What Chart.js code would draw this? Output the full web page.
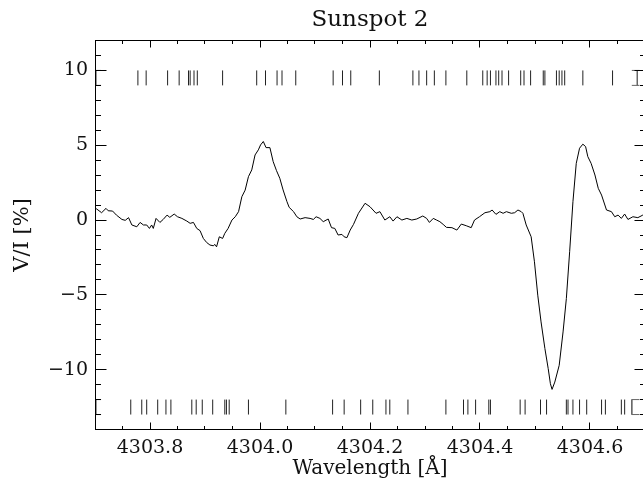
<!DOCTYPE html>
<html><head><meta charset="utf-8">
<script src="https://cdn.jsdelivr.net/npm/chart.js@4/dist/chart.umd.min.js"></script>
<style>html,body{margin:0;padding:0;overflow:hidden;background:#fff}canvas{display:block}</style>
</head><body>
<canvas id="c" width="650" height="492"></canvas>
<script>
// ---- data ----
const wavelength = [
4303.700,4303.703,4303.712,4303.720,4303.724,4303.732,4303.739,4303.749,4303.755,4303.761,
4303.767,4303.776,4303.782,4303.788,4303.794,4303.799,4303.803,4303.806,4303.811,4303.818,
4303.824,4303.831,4303.836,4303.844,4303.850,4303.858,4303.867,4303.873,4303.879,4303.885,
4303.891,4303.897,4303.903,4303.909,4303.915,4303.918,4303.921,4303.926,4303.932,4303.936,
4303.942,4303.949,4303.955,4303.961,4303.967,4303.973,4303.979,4303.985,4303.991,4303.997,
4304.001,4304.006,4304.011,4304.018,4304.024,4304.030,4304.036,4304.042,4304.049,4304.053,
4304.061,4304.067,4304.073,4304.082,4304.091,4304.097,4304.102,4304.109,4304.115,4304.124,
4304.130,4304.136,4304.142,4304.149,4304.153,4304.158,4304.164,4304.170,4304.179,4304.191,
4304.200,4304.211,4304.218,4304.227,4304.236,4304.242,4304.249,4304.258,4304.267,4304.276,
4304.285,4304.296,4304.303,4304.308,4304.315,4304.321,4304.327,4304.333,4304.339,4304.349,
4304.358,4304.366,4304.375,4304.384,4304.390,4304.399,4304.409,4304.418,4304.422,4304.429,
4304.436,4304.442,4304.448,4304.457,4304.463,4304.469,4304.475,4304.478,4304.484,4304.493,
4304.499,4304.505,4304.511,4304.518,4304.524,4304.528,4304.531,4304.536,4304.544,4304.551,
4304.557,4304.563,4304.569,4304.575,4304.581,4304.587,4304.592,4304.596,4304.602,4304.609,
4304.615,4304.621,4304.630,4304.639,4304.645,4304.651,4304.657,4304.663,4304.669,4304.678,
4304.687,4304.696,4304.700];
const stokesV = [
0.78,0.74,0.49,0.78,0.62,0.60,0.33,0.04,-0.02,0.16,
-0.33,-0.45,-0.16,-0.33,-0.33,-0.56,-0.33,-0.56,0.11,-0.16,
0.04,0.33,0.18,0.40,0.22,0.11,-0.07,-0.22,-0.16,-0.56,
-0.71,-1.23,-1.50,-1.67,-1.72,-1.63,-1.79,-1.12,-1.23,-0.89,
-0.56,0.00,0.22,0.56,1.56,2.00,2.90,3.35,4.35,4.69,
5.02,5.25,4.84,4.84,3.90,3.30,2.79,2.01,1.23,0.85,
0.56,0.22,0.07,0.16,0.11,0.04,0.22,0.11,-0.11,0.07,
-0.51,-0.56,-1.00,-0.96,-1.12,-1.18,-0.67,-0.29,0.45,1.12,
0.89,0.45,0.56,0.00,0.22,-0.07,0.22,0.00,0.11,0.00,
0.07,0.27,0.11,-0.16,0.11,0.00,-0.11,-0.29,-0.49,-0.51,
-0.67,-0.27,-0.38,-0.51,0.00,0.22,0.49,0.56,0.67,0.38,
0.56,0.45,0.56,0.45,0.49,0.67,0.56,0.45,-0.33,-1.12,
-2.79,-5.02,-6.81,-8.59,-9.93,-10.94,-11.32,-10.83,-9.71,-7.48,
-5.25,-2.12,1.23,3.79,4.80,5.07,4.91,4.24,3.79,3.01,
2.12,1.67,0.67,0.56,0.22,0.33,0.11,0.40,0.04,0.22,
0.16,0.33,0.30];
// line positions marked at the top row (y 9..10)
const topLines = [
4303.778,4303.793,4303.832,4303.853,4303.870,4303.873,4303.880,4303.886,4303.932,4303.994,
4304.010,4304.031,4304.040,4304.065,4304.133,4304.150,4304.165,4304.217,4304.278,4304.289,
4304.303,4304.317,4304.338,4304.376,4304.405,4304.413,4304.419,4304.429,4304.434,4304.440,
4304.452,4304.474,4304.480,4304.492,4304.515,4304.518,4304.539,4304.544,4304.549,4304.554,
4304.587,4304.641];
// line positions marked at the bottom row (y -13..-12)
const bottomLines = [
4303.765,4303.785,4303.794,4303.814,4303.829,4303.838,4303.876,4303.884,4303.895,4303.914,
4303.936,4303.939,4303.944,4303.979,4304.047,4304.132,4304.153,4304.183,4304.205,4304.229,
4304.236,4304.269,4304.338,4304.370,4304.378,4304.392,4304.416,4304.419,4304.473,4304.482,
4304.510,4304.521,4304.557,4304.560,4304.569,4304.581,4304.594,4304.621,4304.628,4304.657,
4304.663];
const topRow = [9, 10];
const bottomRow = [-13, -12];
// range brackets at the edges of the rows
const bracketX = [4303.7015, 4303.711];
const bracketRightX = [4304.676, 4304.686, 4304.690];
const xTickValues = [4303.8, 4304.0, 4304.2, 4304.4, 4304.6];
const yTickValues = [-10, -5, 0, 5, 10];
const xRange = [4303.7, 4304.7];
const yRange = [-14, 12];
const xMinorStep = 0.05;
const yMinorStep = 1;

// ---- build datasets ----
const curve = wavelength.map((w, i) => ({x: w, y: stokesV[i]}));
function markerPoints(list, row) {
  const pts = [];
  list.forEach(w => { pts.push({x: w, y: row[0]}, {x: w, y: row[1]}, {x: w, y: null}); });
  return pts;
}
const brackets = [
  {x: bracketX[1], y: topRow[1]}, {x: bracketX[0], y: topRow[1]}, {x: bracketX[0], y: topRow[0]}, {x: bracketX[1], y: topRow[0]}, {x: bracketX[1], y: null},
  {x: bracketX[1], y: bottomRow[1]}, {x: bracketX[0], y: bottomRow[1]}, {x: bracketX[0], y: bottomRow[0]}, {x: bracketX[1], y: bottomRow[0]}, {x: bracketX[1], y: null},
  {x: bracketRightX[0], y: topRow[1]}, {x: bracketRightX[2], y: topRow[1]}, {x: bracketRightX[2], y: null},
  {x: bracketRightX[1], y: topRow[1]}, {x: bracketRightX[1], y: topRow[0]}, {x: bracketRightX[1], y: null},
  {x: bracketRightX[0], y: topRow[0]}, {x: bracketRightX[2], y: topRow[0]}, {x: bracketRightX[2], y: null},
  {x: bracketRightX[2], y: bottomRow[1]}, {x: bracketRightX[0], y: bottomRow[1]}, {x: bracketRightX[0], y: bottomRow[0]}, {x: bracketRightX[2], y: bottomRow[0]}
];

const FONT = 'DejaVu Serif';
const INK = '#111';

const framePlugin = {
  id: 'frame',
  afterDraw(chart) {
    const {ctx, chartArea: a, scales: {x, y}} = chart;
    const L = Math.floor(a.left) + 0.5, R = Math.floor(a.right) + 0.5;
    const T = Math.floor(a.top) + 0.5, B = Math.floor(a.bottom) + 0.5;
    ctx.save();
    ctx.strokeStyle = '#000';
    ctx.lineWidth = 1;
    ctx.strokeRect(L, T, R - L, B - T);
    ctx.beginPath();
    const nx = Math.round((xRange[1] - xRange[0]) / xMinorStep);
    for (let k = 0; k <= nx; k++) {
      const v = xRange[0] + k * xMinorStep;
      const major = xTickValues.some(t => Math.abs(t - v) < 1e-6);
      const len = major ? 7 : 3.5;
      const px = Math.floor(x.getPixelForValue(v)) + 0.5;
      ctx.moveTo(px, B); ctx.lineTo(px, B - len);
      ctx.moveTo(px, T); ctx.lineTo(px, T + len);
    }
    const ny = Math.round((yRange[1] - yRange[0]) / yMinorStep);
    for (let k = 0; k <= ny; k++) {
      const v = yRange[0] + k * yMinorStep;
      const major = yTickValues.includes(v);
      const len = major ? 11 : 5.5;
      const py = Math.floor(y.getPixelForValue(v)) + 0.5;
      ctx.moveTo(L, py); ctx.lineTo(L + len, py);
      ctx.moveTo(R, py); ctx.lineTo(R - len, py);
    }
    ctx.stroke();
    ctx.restore();
  }
};

new Chart(document.getElementById('c'), {
  type: 'line',
  data: {
    datasets: [
      {data: curve, borderColor: '#000', borderWidth: 1, pointRadius: 0, tension: 0},
      {data: markerPoints(topLines, topRow), borderColor: '#222', borderWidth: 1, pointRadius: 0, spanGaps: false},
      {data: markerPoints(bottomLines, bottomRow), borderColor: '#222', borderWidth: 1, pointRadius: 0, spanGaps: false},
      {data: brackets, borderColor: '#666', borderWidth: 1, pointRadius: 0, spanGaps: false}
    ]
  },
  options: {
    responsive: false,
    animation: false,
    devicePixelRatio: 1,
    events: [],
    layout: {padding: {left: 0, right: 5, top: 0, bottom: 0}},
    plugins: {
      legend: {display: false},
      tooltip: {enabled: false},
      title: {
        display: true, text: 'Sunspot 2', fullSize: false, color: INK,
        font: {family: FONT, size: 23, weight: 'normal', lineHeight: 1.2},
        padding: {top: 6.5, bottom: 6.4}
      }
    },
    scales: {
      x: {
        type: 'linear', position: 'bottom', min: xRange[0], max: xRange[1],
        afterBuildTicks: s => { s.ticks = xTickValues.map(v => ({value: v})); },
        afterFit: s => { s.height = 62.5; },
        grid: {display: false, drawTicks: false},
        border: {display: false},
        ticks: {
          autoSkip: false, maxRotation: 0, color: INK, padding: 7,
          font: {family: FONT, size: 19},
          callback: v => Number(v).toFixed(1)
        },
        title: {
          display: true, text: 'Wavelength [Å]', color: INK,
          font: {family: FONT, size: 20, lineHeight: 1.2},
          padding: {top: 0, bottom: 11}
        }
      },
      y: {
        type: 'linear', position: 'left', min: yRange[0], max: yRange[1],
        afterBuildTicks: s => { s.ticks = yTickValues.map(v => ({value: v})); },
        afterFit: s => { s.width = 95; },
        grid: {display: false, drawTicks: false},
        border: {display: false},
        ticks: {
          color: INK, padding: 7,
          font: {family: FONT, size: 19},
          callback: v => v < 0 ? '\u2212' + Math.abs(v) : String(v)
        },
        title: {
          display: true, text: 'V/I [%]', color: INK,
          font: {family: FONT, size: 21, lineHeight: 1.2},
          padding: {top: 10, bottom: 0}
        }
      }
    }
  },
  plugins: [framePlugin]
});
</script>
</body></html>
